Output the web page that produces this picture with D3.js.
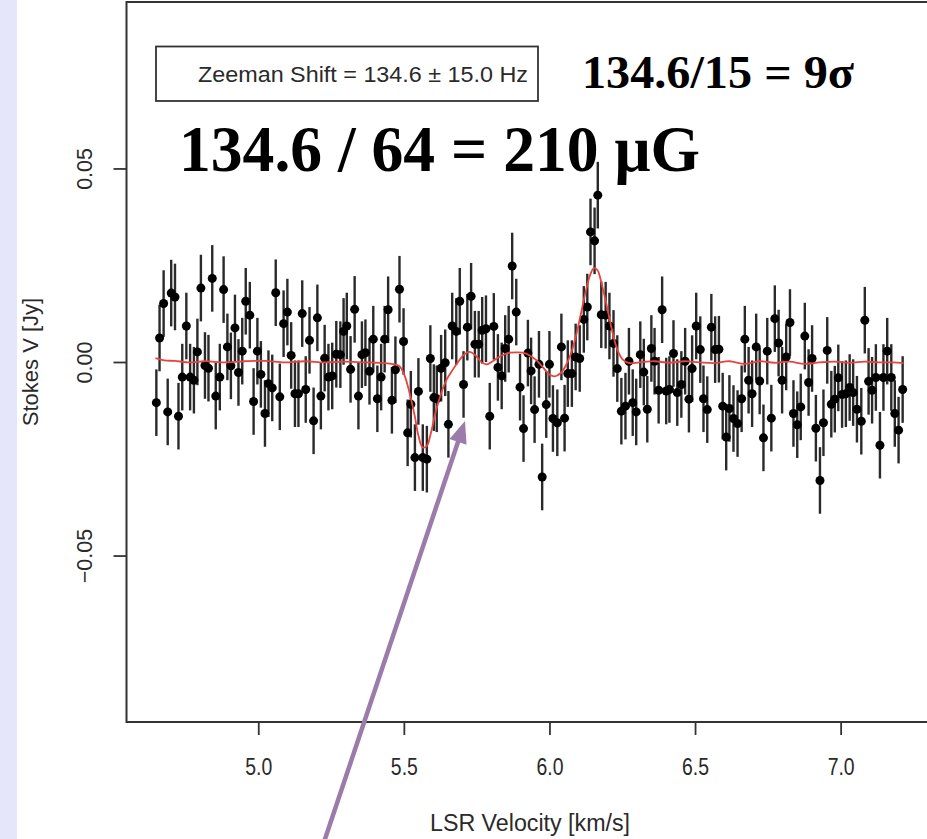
<!DOCTYPE html>
<html>
<head>
<meta charset="utf-8">
<script src="https://cdn.jsdelivr.net/npm/d3@7"></script>
<style>
html,body{margin:0;padding:0;background:#fff;}
svg{display:block;}
</style>
</head>
<body>
<svg id="chart" width="927" height="839"></svg>
<script>
// ---- data ----
const velocity = [4.650,4.661,4.675,4.689,4.701,4.714,4.726,4.739,4.753,4.766,4.779,4.791,4.803,4.817,4.829,4.842,4.854,4.868,4.881,4.894,4.906,4.920,4.932,4.945,4.957,4.971,4.984,4.997,5.009,5.023,5.035,5.048,5.060,5.074,5.087,5.100,5.113,5.126,5.138,5.151,5.163,5.176,5.190,5.203,5.215,5.228,5.241,5.254,5.268,
5.282,5.293,5.304,5.317,5.331,5.344,5.356,5.368,5.382,5.395,5.409,5.422,5.434,5.446,5.459,5.471,5.485,5.499,5.513,5.524,5.538,5.550,5.565,5.579,5.591,5.603,5.613,5.628,5.642,5.653,5.666,5.680,5.692,5.705,5.718,5.731,5.744,5.757,5.769,5.782,5.795,5.809,5.823,5.836,5.848,5.860,5.872,5.886,
5.899,5.911,5.926,5.937,5.949,5.964,5.975,5.989,6.000,6.012,6.027,6.041,6.052,6.063,6.077,6.090,6.104,6.118,6.130,6.141,6.155,6.166,6.178,6.193,6.206,6.220,6.233,6.247,6.261,6.273,6.286,6.298,6.312,6.324,6.336,6.350,6.361,6.375,6.387,6.401,6.412,6.426,6.439,6.453,6.466,6.479,6.490,6.504,6.518,6.529,6.542,6.556,6.569,
6.582,6.595,6.607,6.618,6.632,6.646,6.660,6.671,6.684,6.696,6.710,6.722,6.735,6.748,6.762,6.774,6.787,6.799,6.813,6.826,6.838,6.851,6.863,6.877,6.890,6.902,6.915,6.929,6.941,6.954,6.968,6.980,6.992,7.005,7.018,7.031,7.043,7.056,7.071,7.083,7.096,7.108,7.121,7.135,7.147,7.160,7.174,7.186,7.199,7.213];

const stokesV = [-0.0105,0.0062,0.0151,-0.0129,0.0178,0.0168,-0.0140,-0.0039,0.0093,-0.0039,-0.0047,0.0026,0.0191,-0.0009,-0.0016,0.0216,-0.0088,-0.0039,0.0187,0.0039,-0.0010,0.0088,-0.0027,0.0028,0.0157,0.0121,-0.0102,0.0028,-0.0032,-0.0133,-0.0056,-0.0067,0.0179,-0.0090,0.0099,0.0129,0.0017,-0.0082,-0.0082,0.0125,-0.0071,0.0056,-0.0152,0.0114,-0.0088,0.0010,-0.0039,-0.0036,0.0020,
0.0019,0.0079,0.0093,-0.0019,0.0136,-0.0088,0.0019,0.0024,-0.0024,0.0059,-0.0095,-0.0039,0.0059,0.0135,-0.0099,-0.0020,0.0188,0.0053,-0.0183,-0.0109,-0.0247,-0.0076,-0.0247,-0.0251,0.0009,-0.0092,-0.0095,-0.0016,-0.0002,-0.0161,0.0093,0.0079,0.0157,-0.0058,0.0090,0.0170,0.0046,0.0046,0.0082,0.0086,-0.0140,0.0092,-0.0014,-0.0036,0.0035,0.0059,0.0248,0.0129,
-0.0065,-0.0172,0.0023,-0.0023,-0.0123,-0.0006,-0.0297,-0.0110,-0.0006,-0.0146,-0.0157,0.0039,-0.0145,-0.0030,-0.0030,0.0013,0.0009,0.0110,0.0142,0.0336,0.0313,0.0431,0.0122,0.0121,0.0093,0.0048,-0.0017,-0.0127,-0.0114,0.0002,-0.0105,-0.0129,0.0019,-0.0026,-0.0122,0.0035,0.0002,-0.0073,0.0135,-0.0075,-0.0071,0.0022,-0.0079,-0.0058,0.0002,-0.0096,-0.0017,0.0093,0.0032,-0.0095,-0.0123,0.0090,0.0032,
0.0033,-0.0114,-0.0194,-0.0120,-0.0146,-0.0159,-0.0095,0.0059,-0.0047,-0.0082,0.0039,-0.0049,-0.0196,0.0028,-0.0145,0.0112,0.0049,-0.0047,0.0013,0.0102,-0.0133,-0.0162,-0.0116,0.0067,-0.0053,0.0009,-0.0171,-0.0306,-0.0157,0.0030,-0.0109,-0.0096,-0.0041,-0.0084,-0.0082,-0.0066,-0.0079,-0.0122,-0.0153,0.0108,-0.0050,-0.0073,-0.0040,-0.0215,-0.0040,0.0028,-0.0040,-0.0133,-0.0176,-0.0071];

const stokesErr = 0.0086;

const modelVelocity = [4.647,4.678,4.712,4.764,4.816,4.884,4.953,5.022,5.090,5.159,5.228,5.296,5.365,5.417,5.458,5.485,5.502,5.519,5.537,5.550,5.564,5.578,5.592,5.609,5.626,5.646,5.667,5.688,5.708,5.726,5.746,5.767,5.784,5.805,5.825,5.846,5.866,5.887,5.908,5.932,5.956,5.980,6.000,6.018,6.038,6.055,6.073,6.090,6.107,6.124,6.138,6.152,6.165,6.179,6.193,6.206,6.220,6.234,6.251,6.275,6.309,6.361,6.412,6.464,6.515,6.567,6.618,6.670,6.721,6.773,6.825,6.876,6.928,6.979,7.031,7.082,7.134,7.179,7.216];
const modelV = [0.0010,0.0004,0.0003,-0.0001,0.0002,-0.0001,0.0002,0.0003,-0.0001,0.0002,-0.0001,0.0001,-0.0001,-0.0002,-0.0005,-0.0011,-0.0034,-0.0078,-0.0138,-0.0190,-0.0220,-0.0218,-0.0186,-0.0130,-0.0086,-0.0047,-0.0021,0.0002,0.0020,0.0026,0.0017,-0.0001,-0.0006,0.0002,0.0012,0.0020,0.0024,0.0025,0.0024,0.0017,0.0004,-0.0016,-0.0032,-0.0037,-0.0029,-0.0011,0.0020,0.0064,0.0121,0.0180,0.0221,0.0242,0.0237,0.0203,0.0159,0.0113,0.0066,0.0030,0.0007,-0.0003,-0.0001,0.0002,-0.0002,0.0002,-0.0001,-0.0003,0.0002,-0.0005,0.0002,-0.0002,0.0001,-0.0005,-0.0001,0.0001,-0.0002,0.0001,-0.0001,-0.0001,-0.0003];

const xTicks = [5.0, 5.5, 6.0, 6.5, 7.0];
const yTicks = [-0.05, 0.00, 0.05];
const xDomain = [4.5475, 7.3155];
const yDomain = [-0.093, 0.093];
const xTitle = "LSR Velocity [km/s]";
const yTitle = "Stokes V [Jy]";
const legendText = "Zeeman Shift = 134.6 \u00b1 15.0 Hz";
const noteSigma = "134.6/15 = 9\u03c3";
const noteField = "134.6 / 64 = 210 \u03bcG";

// ---- layout ----
const W = 927, H = 839;
const plot = {left: 126.5, right: 932.5, top: 2, bottom: 722};
const svg = d3.select("#chart");

svg.append("rect").attr("x",0).attr("y",0).attr("width",W).attr("height",H).attr("fill","#fff");
svg.append("rect").attr("x",0).attr("y",0).attr("width",17).attr("height",H).attr("fill","#e6e6fa");

const x = d3.scaleLinear().domain(xDomain).range([plot.left, plot.right]);
const y = d3.scaleLinear().domain(yDomain).range([plot.bottom, plot.top]);

const sans = "'Liberation Sans', Arial, Helvetica, sans-serif";
const serif = "'Liberation Serif', 'Times New Roman', serif";
const axisColor = "#333";
const textColor = "#2a2a2a";

// axes
const xAxis = svg.append("g").attr("transform",`translate(0,${plot.bottom})`)
  .call(d3.axisBottom(x).tickValues(xTicks).tickFormat(d3.format(".1f")).tickSize(13).tickSizeOuter(0));
xAxis.select(".domain").remove();
xAxis.selectAll(".tick line").attr("stroke",axisColor).attr("stroke-width",1.8);
xAxis.selectAll(".tick text").attr("y",45).attr("dy","0.35em")
  .attr("font-family",sans).attr("font-size",23).attr("fill",textColor)
  .attr("textLength",27).attr("lengthAdjust","spacingAndGlyphs");

const yAxis = svg.append("g").attr("transform",`translate(${plot.left},0)`)
  .call(d3.axisLeft(y).tickValues(yTicks).tickFormat(d => d3.format(".2f")(d).replace("-","\u2212")).tickSize(13).tickSizeOuter(0));
yAxis.select(".domain").remove();
yAxis.selectAll(".tick line").attr("stroke",axisColor).attr("stroke-width",1.8);
yAxis.selectAll(".tick text").attr("x",null).attr("dy","0.35em")
  .attr("transform","translate(-42,0) rotate(-90)")
  .attr("text-anchor","middle")
  .attr("font-family",sans).attr("font-size",21.5).attr("fill",textColor);

svg.append("text").attr("x",530).attr("y",823).attr("dy","0.35em").attr("text-anchor","middle")
  .attr("font-family",sans).attr("font-size",23).attr("fill",textColor)
  .attr("textLength",200).attr("lengthAdjust","spacingAndGlyphs").text(xTitle);
svg.append("text").attr("transform",`translate(30,${(plot.top+plot.bottom)/2}) rotate(-90)`).attr("dy","0.35em")
  .attr("text-anchor","middle").attr("font-family",sans).attr("font-size",22).attr("fill",textColor).text(yTitle);

// frame
svg.append("rect").attr("x",plot.left).attr("y",plot.top)
  .attr("width",plot.right-plot.left).attr("height",plot.bottom-plot.top)
  .attr("fill","none").attr("stroke",axisColor).attr("stroke-width",2);

// data
const pts = velocity.map((v,i) => ({v, s: stokesV[i]})).filter(d => d.s !== undefined);
const gData = svg.append("g");
gData.selectAll("line.err").data(pts).join("line").attr("class","err")
  .attr("x1",d=>x(d.v)).attr("x2",d=>x(d.v))
  .attr("y1",d=>y(d.s-stokesErr)).attr("y2",d=>y(d.s+stokesErr))
  .attr("stroke","#2a2a2a").attr("stroke-width",2.4);
gData.selectAll("circle").data(pts).join("circle")
  .attr("cx",d=>x(d.v)).attr("cy",d=>y(d.s)).attr("r",4.5).attr("fill","#000");

// model
const model = modelVelocity.map((v,i)=>({v, m: modelV[i]}));
svg.append("path").datum(model)
  .attr("d", d3.line().x(d=>x(d.v)).y(d=>y(d.m)).curve(d3.curveCatmullRom.alpha(0.5)))
  .attr("fill","none").attr("stroke","#e8433f").attr("stroke-width",1.8);

// legend
svg.append("rect").attr("x",156).attr("y",46.5).attr("width",382).attr("height",54.5)
  .attr("fill","#fff").attr("stroke",axisColor).attr("stroke-width",1.8);
svg.append("text").attr("x",528).attr("y",81.5).attr("text-anchor","end")
  .attr("font-family",sans).attr("font-size",21.5).attr("fill",textColor)
  .attr("textLength",330).attr("lengthAdjust","spacingAndGlyphs").text(legendText);

// annotations
svg.append("text").attr("x",582).attr("y",88)
  .attr("font-family",serif).attr("font-weight","bold").attr("font-size",47).attr("fill","#000")
  .attr("textLength",272).attr("lengthAdjust","spacingAndGlyphs")
  .text(noteSigma);
svg.append("text").attr("x",179).attr("y",171)
  .attr("font-family",serif).attr("font-weight","bold").attr("font-size",65).attr("fill","#000")
  .attr("textLength",521).attr("lengthAdjust","spacingAndGlyphs")
  .text(noteField);

// arrow
const arrowColor = "#9b7ba9";
const ax0 = 323, ay0 = 845, ax1 = 465, ay1 = 421;
const len = Math.hypot(ax1-ax0, ay1-ay0);
const ux = (ax1-ax0)/len, uy = (ay1-ay0)/len;
const headL = 22, headW = 9;
const bx = ax1 - ux*headL, by = ay1 - uy*headL;
svg.append("line").attr("x1",ax0).attr("y1",ay0).attr("x2",bx+ux*2).attr("y2",by+uy*2)
  .attr("stroke",arrowColor).attr("stroke-width",4.5);
svg.append("path")
  .attr("d",`M${ax1},${ay1}L${bx - uy*headW},${by + ux*headW}L${bx + uy*headW},${by - ux*headW}Z`)
  .attr("fill",arrowColor);
</script>
</body>
</html>
